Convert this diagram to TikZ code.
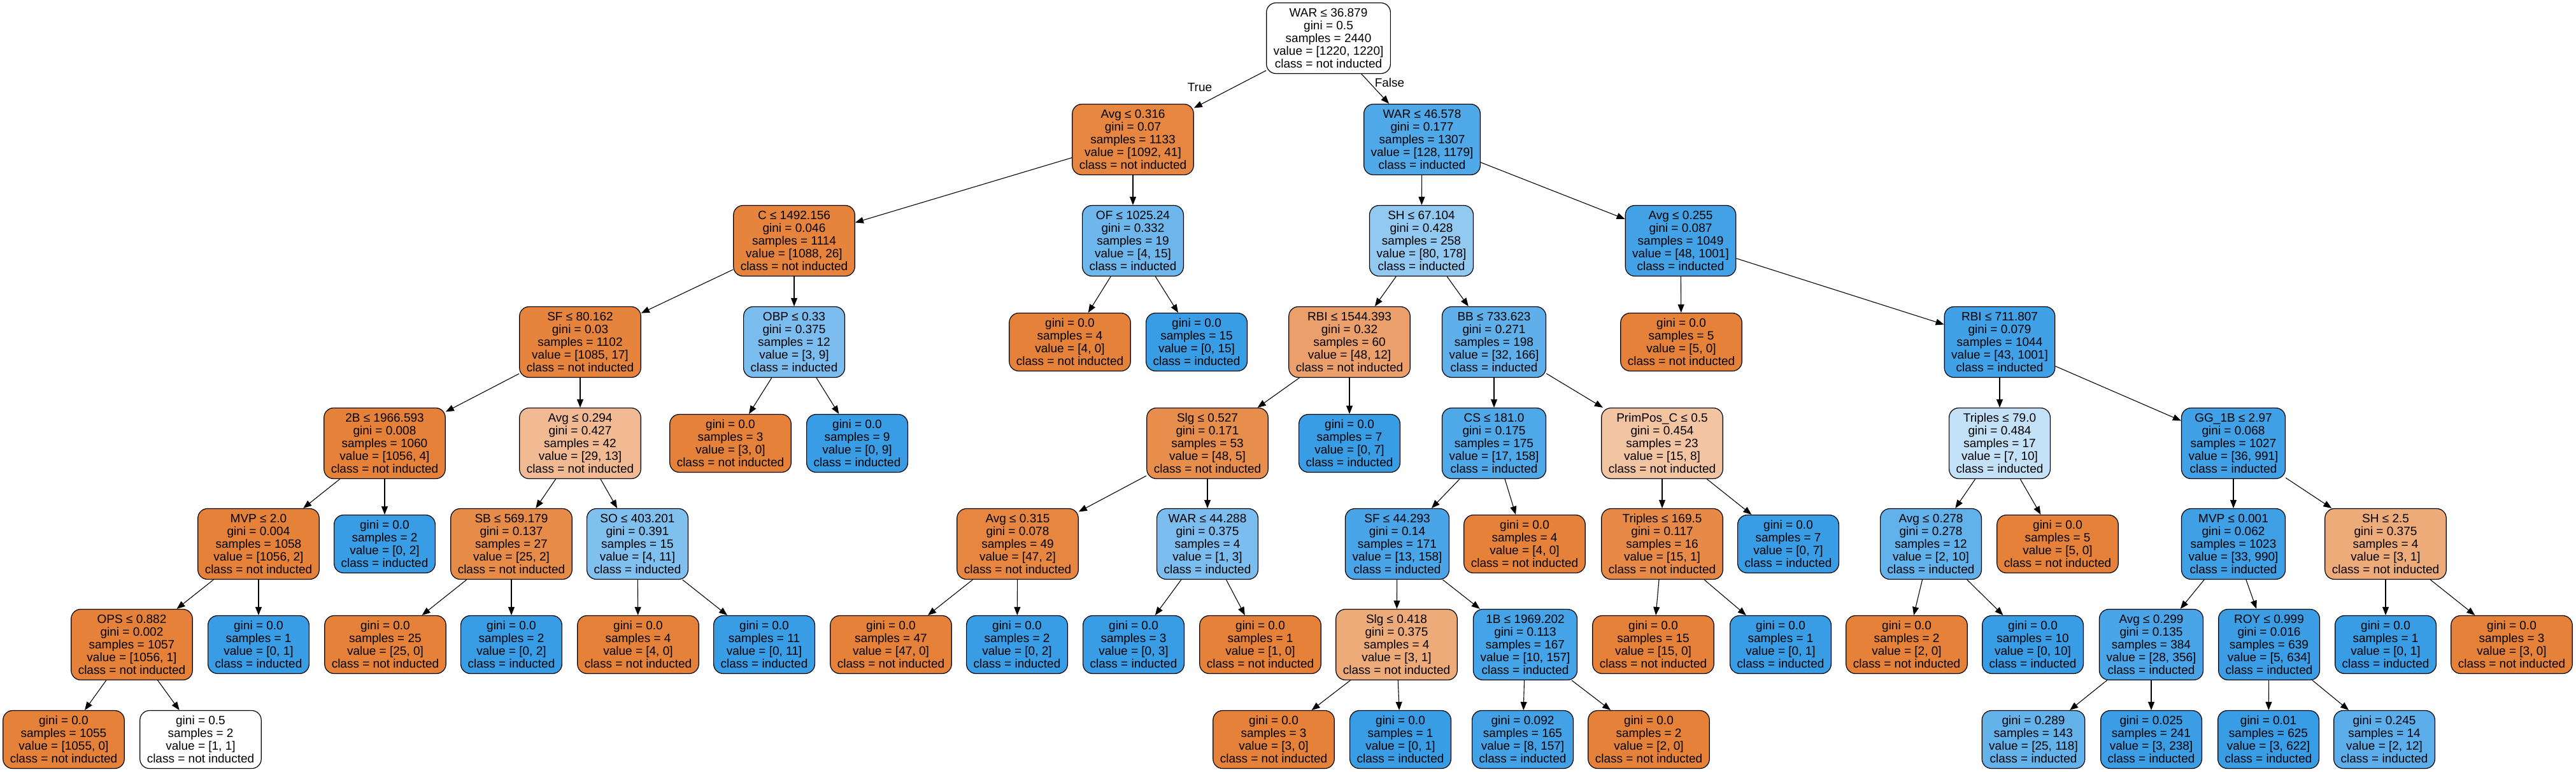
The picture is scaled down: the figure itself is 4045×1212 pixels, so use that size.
\documentclass[tikz,border=0pt]{standalone}
\usepackage{fontspec}
\setmainfont{Liberation Sans}
\usetikzlibrary{arrows.meta}
\definecolor{ora}{RGB}{229,129,57}
\definecolor{blu}{RGB}{57,157,229}
\newcommand{\ClsYes}{class = inducted}
\newcommand{\ClsNo}{class = not inducted}
\begin{document}
\begin{tikzpicture}[x=1pt,y=-1pt,
  tn/.style={draw=black, line width=1.2pt, rounded corners=15pt, align=center,
    font=\fontsize{19}{20}\selectfont, inner xsep=11pt, inner ysep=0pt, minimum height=111pt},
  lf/.style={tn, minimum height=91pt},
  edg/.style={-{Triangle[length=13pt,width=10pt]}, line width=1.1pt},
  elab/.style={font=\fontsize{19}{20}\selectfont, inner sep=0pt}]
\fill[white] (0,0) rectangle (4045,1212);
\useasboundingbox (0,0) rectangle (4045,1212);
% rank 0
\node[tn, fill=white] (n0) at (2086,60) {WAR ≤ 36.879\\gini = 0.5\\samples = 2440\\value = [1220, 1220]\\\ClsNo};
% rank 1
\node[tn, fill=ora!96!white] (n1) at (1779,219) {Avg ≤ 0.316\\gini = 0.07\\samples = 1133\\value = [1092, 41]\\\ClsNo};
\node[tn, fill=blu!89!white] (n2) at (2233,219) {WAR ≤ 46.578\\gini = 0.177\\samples = 1307\\value = [128, 1179]\\\ClsYes};
% rank 2
\node[tn, fill=ora!98!white] (n3) at (1247,378) {C ≤ 1492.156\\gini = 0.046\\samples = 1114\\value = [1088, 26]\\\ClsNo};
\node[tn, fill=blu!73!white] (n4) at (1779,378) {OF ≤ 1025.24\\gini = 0.332\\samples = 19\\value = [4, 15]\\\ClsYes};
\node[tn, fill=blu!55!white] (n5) at (2232,378) {SH ≤ 67.104\\gini = 0.428\\samples = 258\\value = [80, 178]\\\ClsYes};
\node[tn, fill=blu!95!white] (n6) at (2639,378) {Avg ≤ 0.255\\gini = 0.087\\samples = 1049\\value = [48, 1001]\\\ClsYes};
% rank 3
\node[tn, fill=ora!98!white] (n7) at (911,537) {SF ≤ 80.162\\gini = 0.03\\samples = 1102\\value = [1085, 17]\\\ClsNo};
\node[tn, fill=blu!67!white] (n8) at (1247,537) {OBP ≤ 0.33\\gini = 0.375\\samples = 12\\value = [3, 9]\\\ClsYes};
\node[lf, fill=ora] (n9) at (1680,537) {gini = 0.0\\samples = 4\\value = [4, 0]\\\ClsNo};
\node[lf, fill=blu] (n10) at (1879,537) {gini = 0.0\\samples = 15\\value = [0, 15]\\\ClsYes};
\node[tn, fill=ora!75!white] (n11) at (2119,537) {RBI ≤ 1544.393\\gini = 0.32\\samples = 60\\value = [48, 12]\\\ClsNo};
\node[tn, fill=blu!81!white] (n12) at (2346,537) {BB ≤ 733.623\\gini = 0.271\\samples = 198\\value = [32, 166]\\\ClsYes};
\node[lf, fill=ora] (n13) at (2640,537) {gini = 0.0\\samples = 5\\value = [5, 0]\\\ClsNo};
\node[tn, fill=blu!96!white] (n14) at (3140,537) {RBI ≤ 711.807\\gini = 0.079\\samples = 1044\\value = [43, 1001]\\\ClsYes};
% rank 4
\node[tn, fill=ora] (n15) at (604,696) {2B ≤ 1966.593\\gini = 0.008\\samples = 1060\\value = [1056, 4]\\\ClsNo};
\node[tn, fill=ora!55!white] (n16) at (911,696) {Avg ≤ 0.294\\gini = 0.427\\samples = 42\\value = [29, 13]\\\ClsNo};
\node[lf, fill=ora] (n17) at (1147,696) {gini = 0.0\\samples = 3\\value = [3, 0]\\\ClsNo};
\node[lf, fill=blu] (n18) at (1346,696) {gini = 0.0\\samples = 9\\value = [0, 9]\\\ClsYes};
\node[tn, fill=ora!90!white] (n19) at (1896,696) {Slg ≤ 0.527\\gini = 0.171\\samples = 53\\value = [48, 5]\\\ClsNo};
\node[lf, fill=blu] (n20) at (2119,696) {gini = 0.0\\samples = 7\\value = [0, 7]\\\ClsYes};
\node[tn, fill=blu!89!white] (n21) at (2346,696) {CS ≤ 181.0\\gini = 0.175\\samples = 175\\value = [17, 158]\\\ClsYes};
\node[tn, fill=ora!47!white] (n22) at (2610,696) {PrimPos\_C ≤ 0.5\\gini = 0.454\\samples = 23\\value = [15, 8]\\\ClsNo};
\node[tn, fill=blu!30!white] (n23) at (3140,696) {Triples ≤ 79.0\\gini = 0.484\\samples = 17\\value = [7, 10]\\\ClsYes};
\node[tn, fill=blu!96!white] (n24) at (3507,696) {GG\_1B ≤ 2.97\\gini = 0.068\\samples = 1027\\value = [36, 991]\\\ClsYes};
% rank 5
\node[tn, fill=ora] (n25) at (406,854) {MVP ≤ 2.0\\gini = 0.004\\samples = 1058\\value = [1056, 2]\\\ClsNo};
\node[lf, fill=blu] (n26) at (604,854) {gini = 0.0\\samples = 2\\value = [0, 2]\\\ClsYes};
\node[tn, fill=ora!92!white] (n27) at (803,854) {SB ≤ 569.179\\gini = 0.137\\samples = 27\\value = [25, 2]\\\ClsNo};
\node[tn, fill=blu!64!white] (n28) at (1001,854) {SO ≤ 403.201\\gini = 0.391\\samples = 15\\value = [4, 11]\\\ClsYes};
\node[tn, fill=ora!96!white] (n29) at (1598,854) {Avg ≤ 0.315\\gini = 0.078\\samples = 49\\value = [47, 2]\\\ClsNo};
\node[tn, fill=blu!67!white] (n30) at (1896,854) {WAR ≤ 44.288\\gini = 0.375\\samples = 4\\value = [1, 3]\\\ClsYes};
\node[tn, fill=blu!92!white] (n31) at (2194,854) {SF ≤ 44.293\\gini = 0.14\\samples = 171\\value = [13, 158]\\\ClsYes};
\node[lf, fill=ora] (n32) at (2394,854) {gini = 0.0\\samples = 4\\value = [4, 0]\\\ClsNo};
\node[tn, fill=ora!93!white] (n33) at (2610,854) {Triples ≤ 169.5\\gini = 0.117\\samples = 16\\value = [15, 1]\\\ClsNo};
\node[lf, fill=blu] (n34) at (2808,854) {gini = 0.0\\samples = 7\\value = [0, 7]\\\ClsYes};
\node[tn, fill=blu!80!white] (n35) at (3032,854) {Avg ≤ 0.278\\gini = 0.278\\samples = 12\\value = [2, 10]\\\ClsYes};
\node[lf, fill=ora] (n36) at (3231,854) {gini = 0.0\\samples = 5\\value = [5, 0]\\\ClsNo};
\node[tn, fill=blu!97!white] (n37) at (3507,854) {MVP ≤ 0.001\\gini = 0.062\\samples = 1023\\value = [33, 990]\\\ClsYes};
\node[tn, fill=ora!67!white] (n38) at (3746,854) {SH ≤ 2.5\\gini = 0.375\\samples = 4\\value = [3, 1]\\\ClsNo};
% rank 6
\node[tn, fill=ora] (n39) at (207,1012) {OPS ≤ 0.882\\gini = 0.002\\samples = 1057\\value = [1056, 1]\\\ClsNo};
\node[lf, fill=blu] (n40) at (406,1012) {gini = 0.0\\samples = 1\\value = [0, 1]\\\ClsYes};
\node[lf, fill=ora] (n41) at (605,1012) {gini = 0.0\\samples = 25\\value = [25, 0]\\\ClsNo};
\node[lf, fill=blu] (n42) at (803,1012) {gini = 0.0\\samples = 2\\value = [0, 2]\\\ClsYes};
\node[lf, fill=ora] (n43) at (1002,1012) {gini = 0.0\\samples = 4\\value = [4, 0]\\\ClsNo};
\node[lf, fill=blu] (n44) at (1200,1012) {gini = 0.0\\samples = 11\\value = [0, 11]\\\ClsYes};
\node[lf, fill=ora] (n45) at (1399,1012) {gini = 0.0\\samples = 47\\value = [47, 0]\\\ClsNo};
\node[lf, fill=blu] (n46) at (1597,1012) {gini = 0.0\\samples = 2\\value = [0, 2]\\\ClsYes};
\node[lf, fill=blu] (n47) at (1780,1012) {gini = 0.0\\samples = 3\\value = [0, 3]\\\ClsYes};
\node[lf, fill=ora] (n48) at (1979,1012) {gini = 0.0\\samples = 1\\value = [1, 0]\\\ClsNo};
\node[tn, fill=ora!67!white] (n49) at (2193,1012) {Slg ≤ 0.418\\gini = 0.375\\samples = 4\\value = [3, 1]\\\ClsNo};
\node[tn, fill=blu!94!white] (n50) at (2395,1012) {1B ≤ 1969.202\\gini = 0.113\\samples = 167\\value = [10, 157]\\\ClsYes};
\node[lf, fill=ora] (n51) at (2596,1012) {gini = 0.0\\samples = 15\\value = [15, 0]\\\ClsNo};
\node[lf, fill=blu] (n52) at (2796,1012) {gini = 0.0\\samples = 1\\value = [0, 1]\\\ClsYes};
\node[lf, fill=ora] (n53) at (2994,1012) {gini = 0.0\\samples = 2\\value = [2, 0]\\\ClsNo};
\node[lf, fill=blu] (n54) at (3192,1012) {gini = 0.0\\samples = 10\\value = [0, 10]\\\ClsYes};
\node[tn, fill=blu!92!white] (n55) at (3378,1012) {Avg ≤ 0.299\\gini = 0.135\\samples = 384\\value = [28, 356]\\\ClsYes};
\node[tn, fill=blu!99!white] (n56) at (3563,1012) {ROY ≤ 0.999\\gini = 0.016\\samples = 639\\value = [5, 634]\\\ClsYes};
\node[lf, fill=blu] (n57) at (3746,1012) {gini = 0.0\\samples = 1\\value = [0, 1]\\\ClsYes};
\node[lf, fill=ora] (n58) at (3944,1012) {gini = 0.0\\samples = 3\\value = [3, 0]\\\ClsNo};
% rank 7
\node[lf, fill=ora] (n59) at (100,1161) {gini = 0.0\\samples = 1055\\value = [1055, 0]\\\ClsNo};
\node[lf, fill=white] (n60) at (315,1161) {gini = 0.5\\samples = 2\\value = [1, 1]\\\ClsNo};
\node[lf, fill=ora] (n61) at (2000,1161) {gini = 0.0\\samples = 3\\value = [3, 0]\\\ClsNo};
\node[lf, fill=blu] (n62) at (2199,1161) {gini = 0.0\\samples = 1\\value = [0, 1]\\\ClsYes};
\node[lf, fill=blu!95!white] (n63) at (2391,1161) {gini = 0.092\\samples = 165\\value = [8, 157]\\\ClsYes};
\node[lf, fill=ora] (n64) at (2589,1161) {gini = 0.0\\samples = 2\\value = [2, 0]\\\ClsNo};
\node[lf, fill=blu!79!white] (n65) at (3193,1161) {gini = 0.289\\samples = 143\\value = [25, 118]\\\ClsYes};
\node[lf, fill=blu!99!white] (n66) at (3378,1161) {gini = 0.025\\samples = 241\\value = [3, 238]\\\ClsYes};
\node[lf, fill=blu] (n67) at (3562,1161) {gini = 0.01\\samples = 625\\value = [3, 622]\\\ClsYes};
\node[lf, fill=blu!83!white] (n68) at (3744,1161) {gini = 0.245\\samples = 14\\value = [2, 12]\\\ClsYes};
% edges
\foreach \p/\c in {0/1,0/2,1/3,1/4,2/5,2/6,3/7,3/8,4/9,4/10,5/11,5/12,6/13,6/14,
  7/15,7/16,8/17,8/18,11/19,11/20,12/21,12/22,14/23,14/24,
  15/25,15/26,16/27,16/28,19/29,19/30,21/31,21/32,22/33,22/34,23/35,23/36,24/37,24/38,
  25/39,25/40,27/41,27/42,28/43,28/44,29/45,29/46,30/47,30/48,31/49,31/50,33/51,33/52,
  35/53,35/54,37/55,37/56,38/57,38/58,
  39/59,39/60,49/61,49/62,50/63,50/64,55/65,55/66,56/67,56/68}
  {\draw[edg] (n\p) -- (n\c);}
\node[elab] (lt) at (1884,137) {True};
\node[elab] (lf) at (2182,130) {False};
\end{tikzpicture}
\end{document}
